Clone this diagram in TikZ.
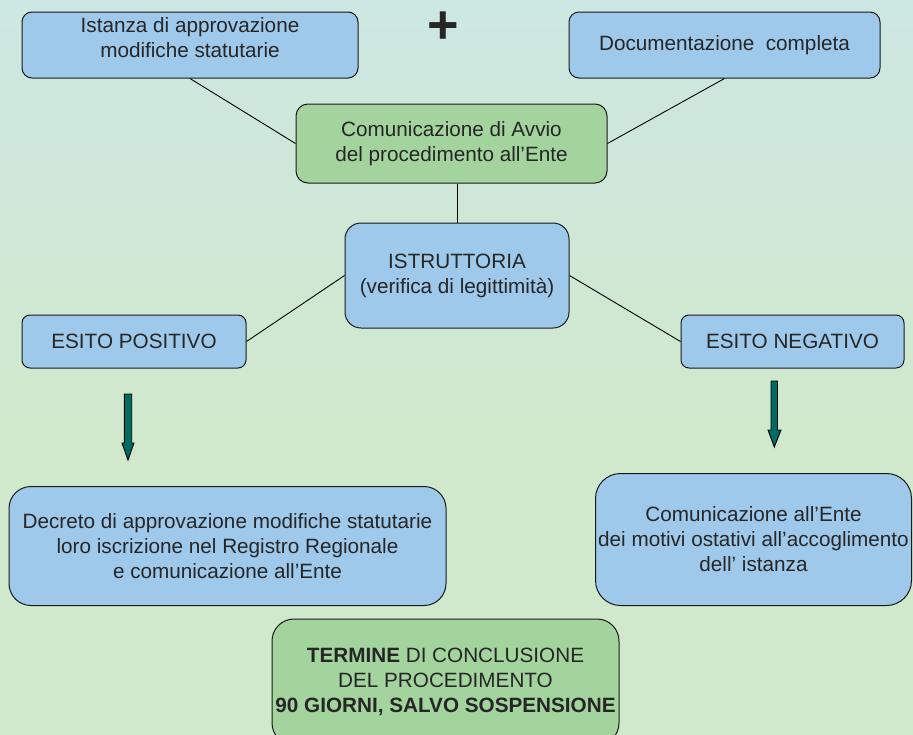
\documentclass[tikz,border=0pt]{standalone}
\usepackage{fontspec}
\setmainfont{Liberation Sans}
\definecolor{boxblue}{HTML}{9EC9EB}
\definecolor{boxgreen}{HTML}{A3D49E}
\definecolor{txtcol}{HTML}{262626}
\definecolor{teal}{HTML}{006B63}
\definecolor{bgtop}{HTML}{C8DCEE}
\definecolor{bgmidA}{HTML}{CDE7E2}
\definecolor{bgmidB}{HTML}{D0E8CB}
\definecolor{bgbot}{HTML}{D0E8CC}
\pgfdeclareverticalshading{bgshade}{100bp}{color(0bp)=(bgbot); color(45bp)=(bgmidB); color(75bp)=(bgmidA); color(100bp)=(bgtop)}
\newcommand{\mainsz}{\fontsize{20.7}{25}\selectfont}
\tikzset{
  bbox/.style={draw=black!90, line width=1pt, fill=boxblue, text=txtcol,
    font=\mainsz, align=center, inner sep=0pt},
  gbox/.style={bbox, fill=boxgreen},
  txt/.style={text=txtcol, font=\mainsz, align=center, inner sep=0pt},
  conn/.style={draw=black, line width=0.9pt},
  downarrow/.style={fill=teal, draw=black, line width=0.9pt, line join=miter}
}
\begin{document}
\begin{tikzpicture}[x=1pt,y=-1pt]
\useasboundingbox (0,0) rectangle (913,734);
\clip (0,0) rectangle (913,734);
\shade[shading=bgshade] (0,0) rectangle (913,734);

% boxes
\node[bbox, rounded corners=10pt, minimum width=336, minimum height=66] (ist) at (190,45) {};
\node[txt] (istt) at (190,37.5) {Istanza di approvazione\\modifiche statutarie};
\node[text=txtcol, inner sep=0pt, font=\fontsize{54}{54}\selectfont\bfseries] (plus) at (443,28) {+};
\node[bbox, rounded corners=10pt, minimum width=311, minimum height=66] (doc) at (724.5,45) {Documentazione~ completa};
\node[gbox, rounded corners=12pt, minimum width=311, minimum height=79] (com) at (451.5,143.5) {Comunicazione di Avvio\\del procedimento all’Ente};
\node[bbox, rounded corners=16pt, minimum width=224, minimum height=105] (istr) at (457,275.5) {ISTRUTTORIA\\(verifica di legittimità)};
\node[bbox, rounded corners=8pt, minimum width=224, minimum height=53] (pos) at (134,341.5) {ESITO POSITIVO};
\node[bbox, rounded corners=8pt, minimum width=223, minimum height=53] (neg) at (792.5,341.5) {ESITO NEGATIVO};
\node[bbox, rounded corners=22pt, minimum width=437, minimum height=119] (dec) at (227.5,546) {Decreto di approvazione modifiche statutarie\\loro iscrizione nel Registro Regionale\\e comunicazione all’Ente};
\node[bbox, rounded corners=25pt, minimum width=316, minimum height=132] (ente) at (753.5,539.5) {Comunicazione all’Ente\\dei motivi ostativi all’accoglimento\\dell’ istanza};
\node[gbox, rounded corners=22pt, minimum width=347, minimum height=126] (term) at (445.5,682) {\textbf{TERMINE} DI CONCLUSIONE\\DEL PROCEDIMENTO\\\textbf{90 GIORNI, SALVO SOSPENSIONE}};

% connectors
\draw[conn] (ist.south) -- (com.west);
\draw[conn] (doc.south) -- (com.east);
\draw[conn] (istr.north |- com.south) -- (istr.north);
\draw[conn] (istr.west) -- (pos.east);
\draw[conn] (istr.east) -- (neg.west);

% block arrows
\draw[downarrow] (124.3,394) -- (131.7,394) -- (131.7,443) -- (134,443) -- (128,460) -- (122,443) -- (124.3,443) -- cycle;
\draw[downarrow] (771,381) -- (777.5,381) -- (777.5,430) -- (781,430) -- (774.3,447) -- (768,430) -- (771,430) -- cycle;
\end{tikzpicture}
\end{document}
